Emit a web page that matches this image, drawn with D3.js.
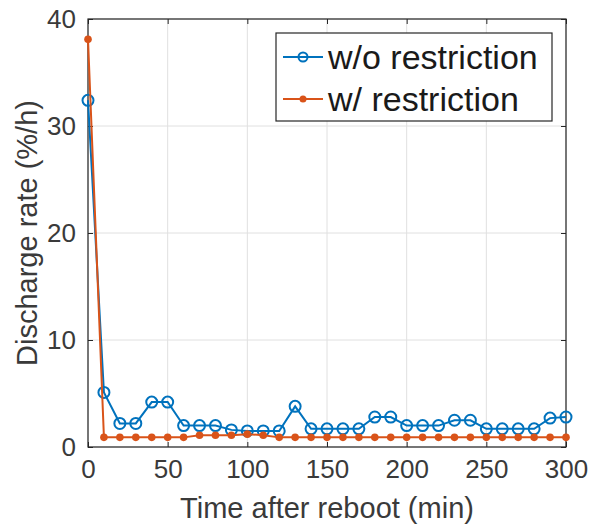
<!DOCTYPE html>
<html>
<head>
<meta charset="utf-8">
<script src="https://cdn.jsdelivr.net/npm/d3@7"></script>
<style>
  body { margin: 0; background: #fff; }
  text { font-family: "Liberation Sans", Arial, sans-serif; }
</style>
</head>
<body>
<svg id="canvas" width="589" height="525"></svg>
<script>
'use strict';

const times = [0, 10, 20, 30, 40, 50, 60, 70, 80, 90, 100, 110, 120, 130, 140, 150,
  160, 170, 180, 190, 200, 210, 220, 230, 240, 250, 260, 270, 280, 290, 300];
const withoutRestriction = [32.4, 5.1, 2.2, 2.2, 4.2, 4.2, 2.0, 2.0, 2.0, 1.6, 1.5, 1.5, 1.5,
  3.8, 1.7, 1.7, 1.7, 1.7, 2.8, 2.8, 2.0, 2.0, 2.0, 2.5, 2.5, 1.7, 1.7, 1.7, 1.7, 2.7, 2.8];
const withRestriction = [38.1, 0.9, 0.9, 0.9, 0.9, 0.9, 0.9, 1.1, 1.1, 1.1, 1.2, 1.1, 0.9,
  0.9, 0.9, 0.9, 0.9, 0.9, 0.9, 0.9, 0.9, 0.9, 0.9, 0.9, 0.9, 0.9, 0.9, 0.9, 0.9, 0.9, 0.9];
const xTicks = [0, 50, 100, 150, 200, 250, 300];
const yTicks = [0, 10, 20, 30, 40];
const seriesNames = ['w/o restriction', 'w/ restriction'];

function Main() {
  const kLeft = 88, kRight = 566, kTop = 19, kBottom = 447;
  const kBlue = '#0072BD';
  const kRed = '#D95319';
  const kAxis = '#262626';

  const svg = d3.select('#canvas');
  const x = d3.scaleLinear().domain([0, 300]).range([kLeft, kRight]);
  const y = d3.scaleLinear().domain([0, 40]).range([kBottom, kTop]);

  // grid
  svg.append('g').selectAll('line').data(xTicks).enter().append('line')
      .attr('x1', d => x(d)).attr('x2', d => x(d))
      .attr('y1', kTop).attr('y2', kBottom)
      .attr('stroke', '#e0e0e0').attr('stroke-width', 1);
  svg.append('g').selectAll('line').data(yTicks).enter().append('line')
      .attr('x1', kLeft).attr('x2', kRight)
      .attr('y1', d => y(d)).attr('y2', d => y(d))
      .attr('stroke', '#e0e0e0').attr('stroke-width', 1);

  // axes with inward ticks
  const tickStyle = function(g) {
    g.select('.domain').remove();
    g.selectAll('.tick line').attr('stroke', kAxis);
    g.selectAll('.tick text').attr('fill', '#3a3a3a')
        .style('font-size', '26px').style('font-family', '"Liberation Sans", Arial, sans-serif');
  };
  svg.append('g').attr('transform', 'translate(0,' + kBottom + ')')
      .call(d3.axisBottom(x).tickValues(xTicks).tickSizeInner(-5).tickSizeOuter(0).tickPadding(13))
      .call(tickStyle);
  svg.append('g').attr('transform', 'translate(0,' + kTop + ')')
      .call(d3.axisTop(x).tickValues(xTicks).tickSizeInner(-5).tickSizeOuter(0).tickFormat(''))
      .call(tickStyle);
  svg.append('g').attr('transform', 'translate(' + kLeft + ',0)')
      .call(d3.axisLeft(y).tickValues(yTicks).tickSizeInner(-5).tickSizeOuter(0).tickPadding(12))
      .call(tickStyle);
  svg.append('g').attr('transform', 'translate(' + kRight + ',0)')
      .call(d3.axisRight(y).tickValues(yTicks).tickSizeInner(-5).tickSizeOuter(0).tickFormat(''))
      .call(tickStyle);

  svg.append('rect')
      .attr('x', kLeft).attr('y', kTop)
      .attr('width', kRight - kLeft).attr('height', kBottom - kTop)
      .attr('fill', 'none').attr('stroke', kAxis).attr('stroke-width', 1.2);

  // series
  const line = d3.line().x(d => x(d[0])).y(d => y(d[1]));
  const blueData = times.map((t, i) => [t, withoutRestriction[i]]);
  const redData = times.map((t, i) => [t, withRestriction[i]]);

  svg.append('path').datum(blueData).attr('d', line)
      .attr('fill', 'none').attr('stroke', kBlue).attr('stroke-width', 2);
  svg.append('g').selectAll('circle').data(blueData).enter().append('circle')
      .attr('cx', d => x(d[0])).attr('cy', d => y(d[1])).attr('r', 5.5)
      .attr('fill', 'none').attr('stroke', kBlue).attr('stroke-width', 2);

  svg.append('path').datum(redData).attr('d', line)
      .attr('fill', 'none').attr('stroke', kRed).attr('stroke-width', 2);
  svg.append('g').selectAll('circle').data(redData).enter().append('circle')
      .attr('cx', d => x(d[0])).attr('cy', d => y(d[1])).attr('r', 3.8)
      .attr('fill', kRed);

  // legend
  const legend = svg.append('g');
  legend.append('rect')
      .attr('x', 276).attr('y', 33).attr('width', 276).attr('height', 88)
      .attr('fill', '#fff').attr('stroke', kAxis).attr('stroke-width', 1.2);
  const rows = legend.selectAll('g').data(seriesNames).enter().append('g')
      .attr('transform', (d, i) => 'translate(0,' + (57 + i * 42) + ')');
  rows.append('line').attr('x1', 283).attr('x2', 323).attr('y1', 0).attr('y2', 0)
      .attr('stroke', (d, i) => i ? kRed : kBlue).attr('stroke-width', 2);
  rows.append('circle').attr('cx', 303).attr('cy', 0)
      .attr('r', (d, i) => i ? 3.5 : 4.5)
      .attr('fill', (d, i) => i ? kRed : 'none')
      .attr('stroke', (d, i) => i ? 'none' : kBlue).attr('stroke-width', 2);
  rows.append('text').attr('x', 328).attr('y', 0).attr('dy', '0.35em')
      .attr('fill', '#1a1a1a').style('font-size', '34px')
      .text(d => d);

  // axis labels
  svg.append('text')
      .attr('x', (kLeft + kRight) / 2).attr('y', 518)
      .attr('text-anchor', 'middle').attr('fill', '#3a3a3a')
      .style('font-size', '29px')
      .text('Time after reboot (min)');
  svg.append('text')
      .attr('transform', 'translate(37,' + ((kTop + kBottom) / 2) + ') rotate(-90)')
      .attr('text-anchor', 'middle').attr('fill', '#3a3a3a')
      .style('font-size', '29px')
      .text('Discharge rate (%/h)');
}

Main();
</script>
</body>
</html>
